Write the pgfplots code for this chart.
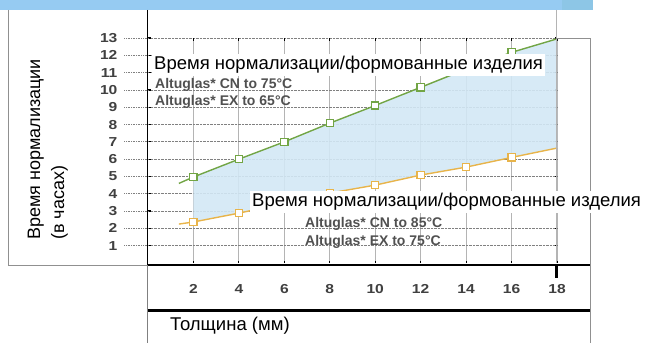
\documentclass[border=0pt]{standalone}
\usepackage{pgfplots}
\pgfplotsset{compat=1.18}
\usepgfplotslibrary{fillbetween}
\usepackage{fontspec}
\setmainfont{Liberation Sans}
\definecolor{lgreen}{HTML}{72A545}
\definecolor{lorange}{HTML}{E8B44A}
\definecolor{lfill}{HTML}{D3E8F5}
\definecolor{banner}{HTML}{96CBF2}
\definecolor{banner2}{HTML}{8DC6E6}
\definecolor{gridg}{HTML}{B4B4B4}
\definecolor{txtg}{HTML}{505050}
\begin{document}
\begin{tikzpicture}
\path (0,0) rectangle (647pt,343pt);
\begin{scope}[x=1pt,y=-1pt,yshift=343pt]
\fill[banner2] (0,0) rectangle (593,10);
\fill[banner] (0,0) rectangle (562,10);
\end{scope}
\begin{axis}[
  at={(148pt,80pt)}, anchor=south west,
  scale only axis, width=409pt, height=225pt,
  xmin=0, xmax=18, ymin=0, ymax=13,
  axis line style={draw=none},
  clip=false,
  xtick={2,4,...,18}, ytick={1,2,...,13},
  tick align=inside,
  major tick length=2.5pt,
  tick style={black, line width=1.2pt},
  ymajorgrids, xmajorgrids,
  y grid style={densely dotted, gray, line width=0.7pt},
  x grid style={gridg, line width=1.2pt},
  /pgf/number format/assume math mode=true,
  tick label style={font=\bfseries\fontsize{13}{13}\selectfont, text=black!75, xscale=1.2},
  yticklabel style={xshift=-22pt},
  xticklabel style={yshift=-18pt},
]
\pgfplotsinvokeforeach{1,...,13}{
  \draw[densely dotted, gray, line width=0.7pt] (axis cs:-1.05,#1) -- (axis cs:0,#1);
}
\addplot[name path=G, draw=none, forget plot] coordinates {(1.36,4.6) (2,4.97) (4,6.0) (6,7.0) (8,8.08) (10,9.1) (12,10.15) (14,11.2) (16,12.17) (18,12.95)};
\addplot[name path=O, draw=none, forget plot] coordinates {(1.36,2.25) (2,2.37) (4,2.88) (6,3.45) (8,4.04) (10,4.5) (12,5.08) (14,5.54) (16,6.1) (18,6.64)};
\addplot[lfill, opacity=0.9] fill between[of=G and O, soft clip={domain=2:18}];
\addplot[lgreen, line width=1.4pt, mark=square*, mark size=3.6pt, mark options={fill=white, line width=1.3pt}, mark indices={2,3,4,5,6,7,8,9}] coordinates {(1.36,4.6) (2,4.97) (4,6.0) (6,7.0) (8,8.08) (10,9.1) (12,10.15) (14,11.2) (16,12.17) (18,12.95)};
\addplot[lorange, line width=1.4pt, mark=square*, mark size=3.6pt, mark options={fill=white, line width=1.3pt}, mark indices={2,3,4,5,6,7,8,9}] coordinates {(1.36,2.25) (2,2.37) (4,2.88) (6,3.45) (8,4.04) (10,4.5) (12,5.08) (14,5.54) (16,6.1) (18,6.64)};
\end{axis}
\begin{scope}[x=1pt,y=-1pt,yshift=343pt]
% frame lines
\draw[gridg!80!black, line width=0.8pt] (8,10) -- (8,265) -- (148,265);
\draw[black, line width=1.6pt] (148,265) -- (590,265);
\draw[black, line width=1.6pt] (147.5,10) -- (147.5,265);
\draw[gray, line width=0.8pt] (147.5,265) -- (147.5,343);
\draw[gridg, line width=1.6pt] (556.5,10) -- (556.5,263);
\draw[gridg!80!black, line width=0.8pt] (556,38.5) -- (590,38.5);
\draw[gridg!80!black, line width=0.8pt] (590,38.5) -- (590,343);
\draw[black, line width=3pt] (148,310) -- (590,310);
\draw[black, line width=3pt] (556.5,265) -- (556.5,278);
% y label
\node[rotate=90, anchor=south west, inner sep=0pt, font=\fontsize{18}{18}\selectfont] at (44,240) {Время нормализации};
\node[rotate=90, anchor=south west, inner sep=0pt, font=\fontsize{18}{18}\selectfont] at (68,240) {(в часах)};
% annotation boxes
\node[fill=white, anchor=west, inner sep=2pt, font=\fontsize{18.5}{18.5}\selectfont] at (152,65) {Время нормализации/формованные изделия};
\node[anchor=west, inner sep=0pt, text=txtg, font=\bfseries\fontsize{14}{14}\selectfont] at (155,85) {Altuglas* CN to 75°C};
\node[anchor=west, inner sep=0pt, text=txtg, font=\bfseries\fontsize{14}{14}\selectfont] at (155,102) {Altuglas* EX to 65°C};
\node[fill=white, anchor=west, inner sep=2pt, font=\fontsize{18.5}{18.5}\selectfont] at (250,202) {Время нормализации/формованные изделия};
\node[anchor=west, inner sep=0pt, text=txtg, font=\bfseries\fontsize{14}{14}\selectfont] at (305,224) {Altuglas* CN to 85°C};
\node[anchor=west, inner sep=0pt, text=txtg, font=\bfseries\fontsize{14}{14}\selectfont] at (305,242) {Altuglas* EX to 75°C};
\fill[white] (165,312) rectangle (312,343);
\node[anchor=west, inner sep=0pt, font=\fontsize{18.5}{18.5}\selectfont] at (170,326) {Толщина (мм)};
\end{scope}
\end{tikzpicture}
\end{document}
